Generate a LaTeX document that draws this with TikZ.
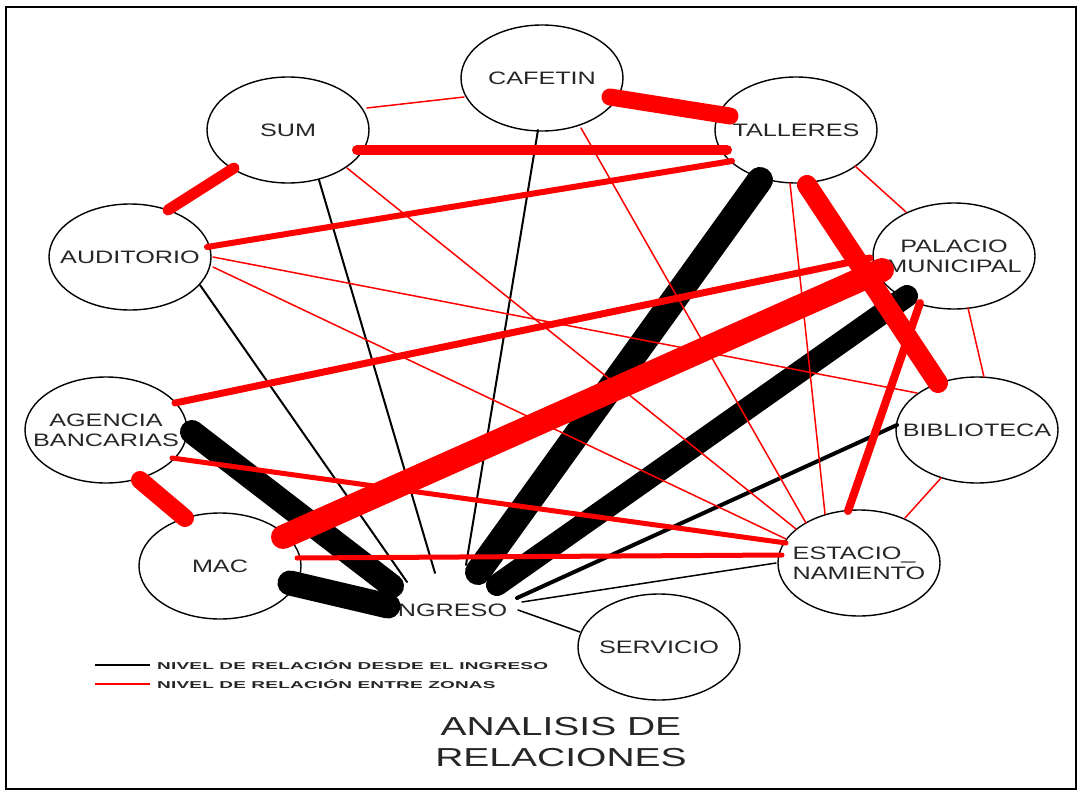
\documentclass[tikz,border=0pt]{standalone}
\usepackage{fontspec}
\usepackage{tikz}
\usetikzlibrary{shapes.geometric,calc}
\newfontfamily\zonefont[FakeStretch=1.4]{Liberation Sans}
\newfontfamily\legendfont[FakeStretch=1.9,LetterSpace=2]{Liberation Sans}
\newfontfamily\titlefont[FakeStretch=1.5]{Liberation Sans}

\begin{document}
\begin{tikzpicture}
[x=1pt,y=-1pt]
\tikzset{zone/.style={ellipse,draw,line width=1.4,minimum width=162,minimum height=106,inner sep=0}}
\tikzset{zonetext/.style={font=\zonefont\fontsize{18}{20}\selectfont,align=center,text=black!85,inner sep=0}}
\tikzset{legendtext/.style={font=\legendfont\bfseries\fontsize{10}{11}\selectfont,text=black!85,inner sep=0,anchor=west}}
\tikzset{access/.style={line cap=round,black}}
\tikzset{between/.style={line cap=round,red}}

\useasboundingbox (0,0) rectangle (1082,792);
\draw [line width=2] (6,7) rectangle (1076,789);

\node [zone,label={[zonetext]center:CAFETIN}] (cafetin) at (542,78) {};
\node [zone,label={[zonetext]center:SUM}] (sum) at (288,130) {};
\node [zone,label={[zonetext]center:TALLERES}] (talleres) at (796,130) {};
\node [zone,label={[zonetext]center:AUDITORIO}] (auditorio) at (130,257) {};
\node [zone,label={[zonetext]center:PALACIO\\MUNICIPAL}] (palacio) at (954,256) {};
\node [zone,label={[zonetext]center:AGENCIA\\BANCARIAS}] (agencia) at (106,430) {};
\node [zone,label={[zonetext]center:BIBLIOTECA}] (biblioteca) at (977,430) {};
\node [zone,label={[zonetext]center:MAC}] (mac) at (220,566) {};
\node [zone,label={[zonetext,align=left]center:ESTACIO\_\\NAMIENTO}] (estacio) at (859,563) {};
\node [zone,label={[zonetext]center:SERVICIO}] (servicio) at (659,647) {};
\node [zonetext] (ingreso) at (449,610) {INGRESO};

% desde el ingreso
\foreach \from/\fx/\fy/\to/\tx/\ty/\w in {sum/31/50/ingreso/-14/-37/2,cafetin/-4/52/ingreso/17/-45/2,
	auditorio/70/28/ingreso/-42/-28/2,ingreso/69/0/servicio/-79/-15/1.5,ingreso/73/-8/estacio/-83/0/1.5,
	biblioteca/-80/-5/ingreso/68/-12/4,agencia/86/2/ingreso/-57/-24/24,mac/70/17/ingreso/-61/-4/25,
	talleres/-36/50/ingreso/29/-38/26,palacio/-47/40/ingreso/48/-25/22}
	\draw [access,line width=\w] ($(\from)+(\fx,\fy)$) -- ($(\to)+(\tx,\ty)$);

% entre zonas
\foreach \from/\fx/\fy/\to/\tx/\ty/\w in {sum/79/-22/cafetin/-78/19/1.5,talleres/59/36/palacio/-48/-44/1.5,
	palacio/14/52/biblioteca/7/-53/1.5,biblioteca/-36/48/estacio/46/-45/1.5,sum/59/38/estacio/-63/-34/1.5,
	cafetin/39/50/estacio/-53/-40/1.5,talleres/-6/53/estacio/-34/-49/1.5,auditorio/83/10/estacio/-73/-24/1.5,
	auditorio/83/0/biblioteca/-60/-37/1.5,auditorio/77/-10/talleres/-64/31/6,sum/69/20/talleres/-69/20/10,
	agencia/69/-27/palacio/-84/2/7,agencia/66/28/estacio/-73/-20/5,mac/77/-8/estacio/-77/-8/5,
	estacio/-11/-52/palacio/-34/47/8,cafetin/68/19/talleres/-66/-14/17,sum/-54/38/auditorio/38/-47/11,
	agencia/34/50/mac/-35/-48/18,mac/63/-29/palacio/-72/14/24,talleres/11/55/biblioteca/-39/-47/20}
	\draw [between,line width=\w] ($(\from)+(\fx,\fy)$) -- ($(\to)+(\tx,\ty)$);

% leyenda
\node [legendtext] (leg1) at (157,665) {NIVEL DE RELACIÓN DESDE EL INGRESO};
\node [legendtext] (leg2) at (157,684) {NIVEL DE RELACIÓN ENTRE ZONAS};
\coordinate (k1) at (95,665);
\coordinate (k2) at (95,684);
\draw [access,line width=2,line cap=butt] (k1) -- ($(leg1.west)+(-7,0)$);
\draw [between,line width=2,line cap=butt] (k2) -- ($(leg2.west)+(-7,0)$);

\node [font=\titlefont\fontsize{26}{31}\selectfont,align=center,text=black!85] (titulo) at (561,742) {ANALISIS DE\\RELACIONES};

\end{tikzpicture}
\end{document}
